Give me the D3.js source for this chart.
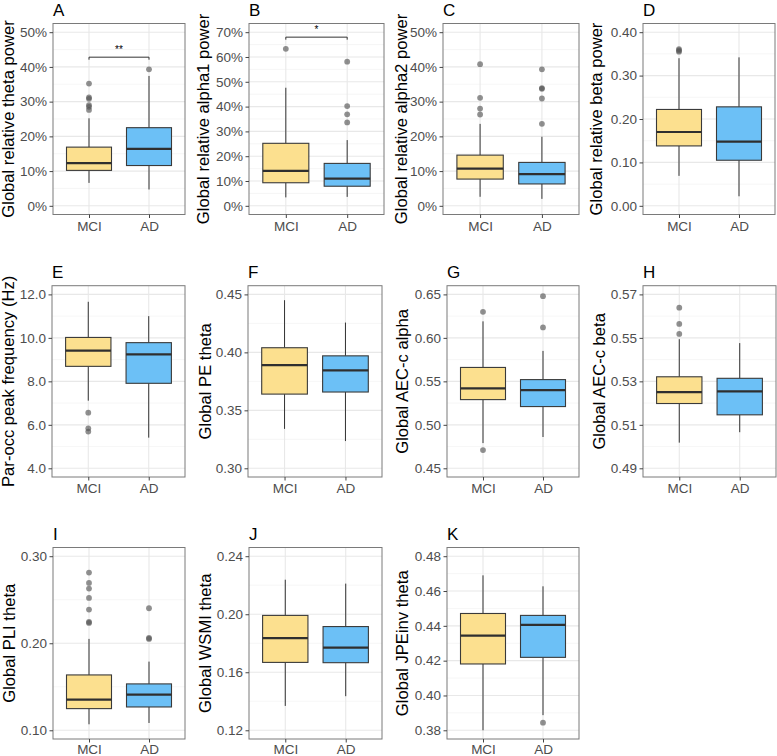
<!DOCTYPE html>
<html><head><meta charset="utf-8">
<script src="https://cdn.jsdelivr.net/npm/d3@7"></script>
<style>
html,body{margin:0;padding:0;background:#fff;}
svg{display:block;font-family:"Liberation Sans",Arial,sans-serif;}
</style></head>
<body>
<svg id="chart" width="777" height="756"></svg>
<script>
// ---- data: [lower whisker, Q1, median, Q3, upper whisker] ----
const groups = ["MCI", "AD"];
const letters = ["A","B","C","D","E","F","G","H","I","J","K"];
const yTitles = ["Global relative theta power","Global relative alpha1 power","Global relative alpha2 power","Global relative beta power",
  "Par-occ peak frequency (Hz)","Global PE theta","Global AEC-c alpha","Global AEC-c beta",
  "Global PLI theta","Global WSMI theta","Global JPEinv theta"];

const statsA = [[6.6,10.2,12.3,16.9,25.2],[4.7,11.6,16.4,22.5,37.4]];
const outA   = [[35.2,31.2,30.8,29.0,28.5,27.6],[39.3]];
const statsB = [[3.4,9.3,14.1,25.2,47.6],[3.6,7.9,11.0,17.1,26.5]];
const outB   = [[63.3],[58.1,40.2,36.9,33.6]];
const statsC = [[2.6,7.7,10.7,14.6,23.6],[2.0,6.3,9.1,12.5,19.9]];
const outC   = [[40.8,31.1,28.0,26.3],[39.3,33.9,33.7,30.9,23.6]];
const statsD = [[0.069,0.138,0.170,0.222,0.340],[0.022,0.105,0.148,0.228,0.342]];
const outD   = [[0.361,0.358,0.355],[]];
const statsE = [[7.11,8.69,9.41,10.02,11.66],[5.41,7.91,9.24,9.78,11.0]];
const outE   = [[6.56,5.84,5.69],[]];
const statsF = [[0.334,0.364,0.389,0.404,0.445],[0.3235,0.3658,0.3844,0.397,0.4257]];
const outF   = [[],[]];
const statsG = [[0.479,0.529,0.542,0.566,0.619],[0.486,0.521,0.540,0.552,0.585]];
const outG   = [[0.630,0.471],[0.648,0.612]];
const statsH = [[0.5018,0.5198,0.5250,0.5321,0.5494],[0.5066,0.5146,0.5254,0.5314,0.5476]];
const outH   = [[0.5639,0.5564,0.5518],[]];
const statsI = [[0.1069,0.1249,0.1352,0.1636,0.2050],[0.1084,0.1268,0.1410,0.1533,0.1789]];
const outI   = [[0.2812,0.2693,0.2628,0.2521,0.2387,0.2245,0.2234],[0.2402,0.2061,0.2050]];
const statsJ = [[0.1368,0.1668,0.1835,0.1992,0.2238],[0.1435,0.1666,0.1770,0.1915,0.2211]];
const outJ   = [[],[]];
const statsK = [[0.3800,0.4181,0.4344,0.4471,0.4690],[0.3887,0.4219,0.4406,0.4460,0.4627]];
const outK   = [[],[0.3844]];

// y tick values
const ticksA = [0,10,20,30,40,50];
const ticksB = [0,10,20,30,40,50,60,70];
const ticksC = [0,10,20,30,40,50];
const ticksD = [0,0.1,0.2,0.3,0.4];
const ticksE = [4,6,8,10,12];
const ticksF = [0.30,0.35,0.40,0.45];
const ticksG = [0.45,0.50,0.55,0.60,0.65];
const ticksH = [0.49,0.51,0.53,0.55,0.57];
const ticksI = [0.10,0.20,0.30];
const ticksJ = [0.12,0.16,0.20,0.24];
const ticksK = [0.38,0.40,0.42,0.44,0.46,0.48];

// significance brackets: [panel index, y value, label]
const sigs = [[0, 42.8, "**"], [1, 68.0, "*"]];

const allStats = [statsA,statsB,statsC,statsD,statsE,statsF,statsG,statsH,statsI,statsJ,statsK];
const allOut = [outA,outB,outC,outD,outE,outF,outG,outH,outI,outJ,outK];
const allTicks = [ticksA,ticksB,ticksC,ticksD,ticksE,ticksF,ticksG,ticksH,ticksI,ticksJ,ticksK];
const fmts = ["pct","pct","pct",".2f",".1f",".2f",".2f",".2f",".2f",".2f",".2f"];

// ---- layout ----
const panelX = [[53,185],[249,384],[443,579],[643,775],[52,185],[248,382],[447,579],[643,776],[53,185],[249,382],[447,579]];
const rowY = [[23.5,214.5],[285.7,477],[547.5,739]];
const titleX = [9,204,402,597,9,206,403,600,9.5,205.5,402.5];

const fillCol = {MCI:"#FCE08F", AD:"#6CC0F6"};
const svg = d3.select("#chart");

allStats.forEach((stats, i) => {
  const row = Math.floor(i / 4);
  const [x0, x1] = panelX[i];
  const [y0, y1] = rowY[row];
  const ticks = allTicks[i];
  const lo = d3.min(ticks), hi = d3.max(ticks), pad = (hi - lo) * 0.05;
  const y = d3.scaleLinear().domain([lo - pad, hi + pad]).range([y1, y0]);
  const x = d3.scalePoint().domain(groups).range([x0, x1]).padding(0.6);
  const step = (x1 - x0) / 2.2;
  const bw = step * 0.75;
  const g = svg.append("g");

  // minor gridlines
  const minors = [];
  for (let k = 0; k < ticks.length - 1; k++) minors.push((ticks[k] + ticks[k+1]) / 2);
  g.selectAll(".minor").data(minors).join("line")
    .attr("x1", x0).attr("x2", x1).attr("y1", d => y(d)).attr("y2", d => y(d))
    .attr("stroke", "#F2F2F2").attr("stroke-width", 0.7);
  // major gridlines
  g.selectAll(".major").data(ticks).join("line")
    .attr("x1", x0).attr("x2", x1).attr("y1", d => y(d)).attr("y2", d => y(d))
    .attr("stroke", "#E8E8E8").attr("stroke-width", 1.1);
  g.selectAll(".vmajor").data(groups).join("line")
    .attr("x1", d => x(d)).attr("x2", d => x(d)).attr("y1", y0).attr("y2", y1)
    .attr("stroke", "#E8E8E8").attr("stroke-width", 1.1);

  groups.forEach((grp, j) => {
    const s = stats[j];
    const cx = x(grp);
    g.append("line").attr("x1", cx).attr("x2", cx).attr("y1", y(s[3])).attr("y2", y(s[4]))
      .attr("stroke", "#333").attr("stroke-width", 1);
    g.append("line").attr("x1", cx).attr("x2", cx).attr("y1", y(s[1])).attr("y2", y(s[0]))
      .attr("stroke", "#333").attr("stroke-width", 1);
    g.append("rect").attr("x", cx - bw/2).attr("width", bw)
      .attr("y", y(s[3])).attr("height", y(s[1]) - y(s[3]))
      .attr("fill", fillCol[grp]).attr("stroke", "#3a3a3a").attr("stroke-width", 1.1);
    g.append("line").attr("x1", cx - bw/2).attr("x2", cx + bw/2).attr("y1", y(s[2])).attr("y2", y(s[2]))
      .attr("stroke", "#2f2f2f").attr("stroke-width", 2.2);
    g.selectAll(null).data(allOut[i][j]).join("circle")
      .attr("cx", cx).attr("cy", d => y(d)).attr("r", 2.9)
      .attr("fill", "#555").attr("fill-opacity", 0.65);
  });

  // panel border
  g.append("rect").attr("x", x0).attr("y", y0).attr("width", x1 - x0).attr("height", y1 - y0)
    .attr("fill", "none").attr("stroke", "#7a7a7a").attr("stroke-width", 1);

  // y axis
  const fmt = fmts[i] === "pct" ? (d => d + "%") : d3.format(fmts[i]);
  const yAxis = d3.axisLeft(y).tickValues(ticks).tickFormat(fmt).tickSize(3.5).tickPadding(2.5);
  const ya = g.append("g").attr("transform", `translate(${x0},0)`).call(yAxis);
  ya.select(".domain").remove();
  ya.selectAll(".tick line").attr("stroke", "#444");
  ya.selectAll(".tick text").attr("fill", "#4D4D4D").style("font-size", "13.5px");

  // x axis
  const xAxis = d3.axisBottom(x).tickSize(3.5).tickPadding(row === 2 ? 2 : 3);
  const xa = g.append("g").attr("transform", `translate(0,${y1})`).call(xAxis);
  xa.select(".domain").remove();
  xa.selectAll(".tick line").attr("stroke", "#444");
  xa.selectAll(".tick text").attr("fill", "#4D4D4D").style("font-size", "13.5px");

  // y title
  g.append("text").attr("transform", `translate(${titleX[i] + 5},${(y0 + y1) / 2}) rotate(-90)`)
    .attr("text-anchor", "middle").style("font-size", "16.6px").attr("fill", "#000").text(yTitles[i]);
  // letter
  g.append("text").attr("x", x0).attr("y", y0 - 8).style("font-size", "17px").attr("fill", "#000").text(letters[i]);

  // significance
  sigs.filter(s => s[0] === i).forEach(s => {
    const yy = y(s[1]);
    g.append("path").attr("d", `M${x("MCI")},${yy + 2.5}V${yy}H${x("AD")}V${yy + 2.5}`)
      .attr("fill", "none").attr("stroke", "#333").attr("stroke-width", 1);
    g.append("text").attr("x", (x("MCI") + x("AD")) / 2).attr("y", yy - 4)
      .attr("text-anchor", "middle").style("font-size", "10px").attr("fill", "#000").text(s[2]);
  });
});
</script>
</body></html>
